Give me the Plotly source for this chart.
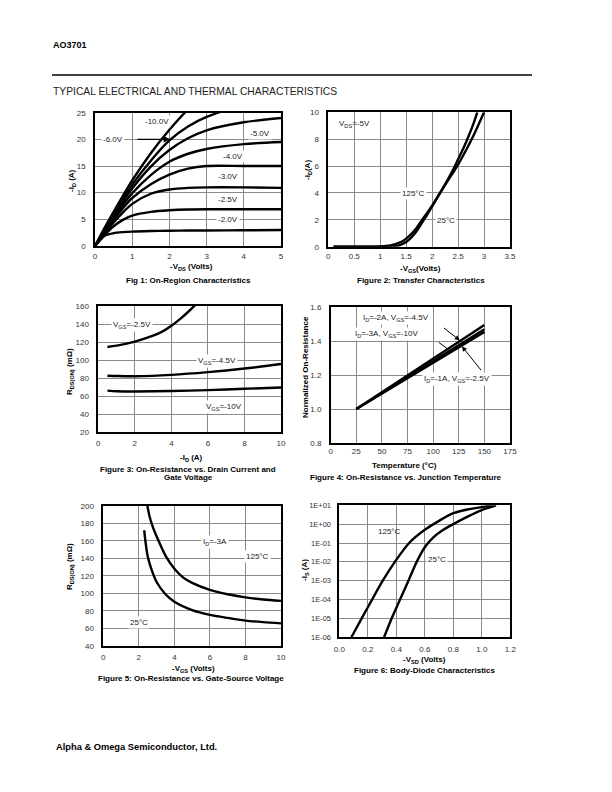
import plotly.graph_objects as go

W, H = 612, 792

# ---------------- Data ----------------
# Fig 1: On-region characteristics  (-VDS in V, -ID in A)
f1_vds = [0, 0.25, 0.5, 0.75, 1.0, 1.5, 2.0, 2.5, 3.0, 4.0, 5.0]
f1_id_vgs2p0 = [0, 1.9, 2.4, 2.6, 2.7, 2.8, 2.85, 2.9, 2.9, 2.95, 3.0]
f1_id_vgs2p5 = [0, 2.0, 3.7, 4.9, 5.7, 6.4, 6.7, 6.85, 6.9, 6.9, 6.9]
f1_id_vgs3p0 = [0, 2.3, 4.4, 6.3, 7.9, 9.8, 10.6, 10.9, 11.0, 11.0, 10.9]
f1_id_vgs3p5 = [0, 2.5, 4.9, 7.1, 9.0, 11.6, 13.4, 14.5, 15.0, 15.0, 15.0]
f1_id_vgs4p0 = [0, 2.6, 5.2, 7.7, 9.9, 13.3, 15.8, 17.3, 18.2, 19.1, 19.5]
f1_id_vgs5p0 = [0, 2.8, 5.6, 8.3, 10.8, 14.9, 18.0, 20.2, 21.7, 23.2, 24.0]
f1_id_vgs6p0 = [0, 3.0, 5.9, 8.8, 11.5, 16.0, 19.8, 22.4, 24.2, 26.5, 28.0]
f1_id_vgs10p0 = [0, 3.3, 6.4, 9.4, 12.3, 17.4, 21.8, 25.6, 28.6, 32.0, 34.0]
f1_labels = ["-10.0V", "-6.0V", "-5.0V", "-4.0V", "-3.0V", "-2.5V", "-2.0V"]
f1_label_x = [1.66, 0.49, 4.44, 3.72, 3.58, 3.58, 3.58]
f1_label_y = [23.3, 19.9, 21.1, 16.75, 13.0, 8.8, 5.06]

# Fig 2: Transfer characteristics (-VGS in V, -ID in A)
f2_vgs_125 = [0.1, 1.0, 1.2, 1.4, 1.5, 1.6, 1.7, 1.8, 1.9, 2.0, 2.2, 2.4, 2.5, 2.6, 2.8, 3.0]
f2_id_125 = [0.0, 0.02, 0.1, 0.35, 0.6, 0.95, 1.4, 1.95, 2.5, 3.05, 4.3, 5.5, 6.1, 6.8, 8.3, 10.0]
f2_vgs_25 = [0.1, 1.2, 1.3, 1.4, 1.5, 1.6, 1.7, 1.8, 1.9, 2.0, 2.2, 2.4, 2.5, 2.6, 2.7, 2.8, 2.87]
f2_id_25 = [0.0, 0.01, 0.05, 0.15, 0.35, 0.7, 1.15, 1.75, 2.35, 3.0, 4.3, 5.7, 6.5, 7.3, 8.2, 9.2, 10.0]

# Fig 3: On-resistance vs drain current (-ID in A, RDS(ON) in mOhm)
f3_id_2p5 = [0.5, 1.0, 2.0, 3.0, 3.5, 4.0, 4.5, 5.0, 5.3]
f3_r_2p5 = [114.5, 116.0, 120.5, 127.0, 131.5, 138.0, 146.0, 155.0, 161.0]
f3_id = [0.5, 1.0, 2.0, 4.0, 6.0, 8.0, 10.0]
f3_r_4p5 = [82.5, 82.2, 82.0, 83.5, 86.5, 90.5, 95.5]
f3_r_10 = [66.0, 65.3, 65.0, 65.5, 66.5, 68.0, 69.5]

# Fig 4: Normalized on-resistance vs temperature
f4_temp = [25, 50, 75, 100, 125, 150]
f4_r_2a = [1.0, 1.099, 1.198, 1.297, 1.396, 1.495]
f4_r_3a = [1.0, 1.094, 1.188, 1.282, 1.376, 1.47]
f4_r_1a = [1.0, 1.091, 1.182, 1.273, 1.364, 1.455]

# Fig 5: On-resistance vs gate-source voltage
f5_vgs_125 = [2.48, 2.6, 2.8, 3.0, 3.5, 4.0, 4.5, 5.0, 6.0, 7.0, 8.0, 9.0, 10.0]
f5_r_125 = [200, 188, 175, 165, 143, 128, 118, 112, 104, 99, 95.5, 93, 91.5]
f5_vgs_25 = [2.3, 2.4, 2.5, 2.75, 3.0, 3.5, 4.0, 5.0, 6.0, 7.0, 8.0, 9.0, 10.0]
f5_r_25 = [172, 155, 142, 125, 113, 99, 90.5, 81, 75.5, 72, 69, 67.2, 65.8]

# Fig 6: Body-diode characteristics
f6_vsd_125 = [0.085, 0.157, 0.23, 0.305, 0.39, 0.49, 0.6, 0.7, 0.8, 0.9, 1.0, 1.07]
f6_is_125 = [1e-6, 1e-5, 1e-4, 1e-3, 1e-2, 1e-1, 0.5, 1.5, 3.8, 6.0, 8.0, 10.0]
f6_vsd_25 = [0.314, 0.367, 0.426, 0.485, 0.543, 0.6, 0.66, 0.73, 0.8, 0.9, 1.0, 1.1]
f6_is_25 = [1e-6, 1e-5, 1e-4, 1e-3, 1e-2, 6e-2, 0.2, 0.5, 1.0, 2.5, 5.6, 10.0]
f6_tickvals = [1e-6, 1e-5, 1e-4, 1e-3, 1e-2, 1e-1, 1e0, 1e1]
f6_ticktext = ["1E-06", "1E-05", "1E-04", "1E-03", "1E-02", "1E-01", "1E+00", "1E+01"]

# ---------------- Layout helpers ----------------
FONT = "Liberation Sans, Arial, sans-serif"


def xd(p0, p1):
    return [p0 / W, p1 / W]


def yd(top, bottom):
    return [1 - bottom / H, 1 - top / H]


def px(x):
    return x / W


def py(y):
    return 1 - y / H


# plot boxes in pixels: left, right, top, bottom
boxes = [
    (95, 281, 112.7, 246),
    (328.3, 510, 112.3, 246.7),
    (98.3, 281, 306, 432),
    (330.7, 510, 307.3, 443),
    (103.3, 281, 505.7, 646),
    (339.3, 510.3, 505.3, 637.3),
]
x_standoff = [2, 1, 3, 0, 3, 3]

fig = go.Figure()
LW = 2.4


def line(x, y, n, spline=True):
    fig.add_trace(go.Scatter(
        x=x, y=y, mode="lines", xaxis="x" if n == 1 else f"x{n}",
        yaxis="y" if n == 1 else f"y{n}",
        line=dict(color="black", width=LW, shape="spline" if spline else "linear", smoothing=0.8),
        showlegend=False, hoverinfo="skip"))


for c in [f1_id_vgs2p0, f1_id_vgs2p5, f1_id_vgs3p0, f1_id_vgs3p5,
          f1_id_vgs4p0, f1_id_vgs5p0, f1_id_vgs6p0, f1_id_vgs10p0]:
    line(f1_vds, c, 1)
line(f2_vgs_125, f2_id_125, 2)
line(f2_vgs_25, f2_id_25, 2)
line(f3_id_2p5, f3_r_2p5, 3)
line(f3_id, f3_r_4p5, 3)
line(f3_id, f3_r_10, 3)
line(f4_temp, f4_r_2a, 4, spline=False)
line(f4_temp, f4_r_3a, 4, spline=False)
line(f4_temp, f4_r_1a, 4, spline=False)
line(f5_vgs_125, f5_r_125, 5)
line(f5_vgs_25, f5_r_25, 5)
line(f6_vsd_125, f6_is_125, 6)
line(f6_vsd_25, f6_is_25, 6)

axis_specs = [
    dict(xr=[0, 5], xd=1, yr=[0, 25], ydt=5, xfmt=None, yfmt=None),
    dict(xr=[0, 3.5], xd=0.5, yr=[0, 10], ydt=2, xfmt=None, yfmt=None),
    dict(xr=[0, 10], xd=2, yr=[20, 160], ydt=20, xfmt=None, yfmt=None),
    dict(xr=[0, 175], xd=25, yr=[0.8, 1.6], ydt=0.2, xfmt=None, yfmt=".1f"),
    dict(xr=[0, 10], xd=2, yr=[40, 200], ydt=20, xfmt=None, yfmt=None),
    dict(xr=[0, 1.2], xd=0.2, yr=None, ydt=None, xfmt=".1f", yfmt=None),
]

layout = dict(
    width=W, height=H, margin=dict(l=0, r=0, t=0, b=0, pad=0, autoexpand=False),
    paper_bgcolor="white", plot_bgcolor="white",
    font=dict(family=FONT, size=8, color="#222"),
    showlegend=False,
)

for i, (b, s) in enumerate(zip(boxes, axis_specs), start=1):
    sfx = "" if i == 1 else str(i)
    common = dict(showline=True, mirror=True, linecolor="black", linewidth=1.5,
                  showgrid=True, gridcolor="#8a8a8a", gridwidth=1, zeroline=False,
                  ticks="", tickfont=dict(family=FONT, size=8, color="#333"),
                  fixedrange=True, automargin=False)
    xa = dict(common, domain=xd(b[0], b[1]), range=s["xr"], dtick=s["xd"], tick0=0,
              anchor="y" + sfx, ticklabelstandoff=x_standoff[i - 1])
    if s["xfmt"]:
        xa["tickformat"] = s["xfmt"]
    if i == 6:
        ya = dict(common, domain=yd(b[2], b[3]), type="log", range=[-6, 1],
                  tickvals=f6_tickvals, ticktext=f6_ticktext, anchor="x" + sfx,
                  ticklabelstandoff=5)
        ya["tickfont"] = dict(family=FONT, size=7.5, color="#333")
    else:
        ya = dict(common, domain=yd(b[2], b[3]), range=s["yr"], dtick=s["ydt"],
                  tick0=s["yr"][0], anchor="x" + sfx, ticklabelstandoff=6)
        if s["yfmt"]:
            ya["tickformat"] = s["yfmt"]
    layout["xaxis" + sfx] = xa
    layout["yaxis" + sfx] = ya

fig.update_layout(**layout)

ann = []


def dlabel(n, x, y, text, bg=True, xanchor="center"):
    sfx = "" if n == 1 else str(n)
    ann.append(dict(x=x, y=y, xref="x" + sfx, yref="y" + sfx, text=text, showarrow=False,
                    font=dict(family=FONT, size=8, color="#222"),
                    bgcolor="white" if bg else None, borderpad=1, xanchor=xanchor))


def plabel(x, y, text, size=8, bold=False, family=FONT, angle=0, xanchor="center", color="black"):
    ann.append(dict(x=px(x), y=py(y), xref="paper", yref="paper",
                    text=f"<b>{text}</b>" if bold else text, showarrow=False,
                    font=dict(family=family, size=size, color=color), textangle=angle,
                    xanchor=xanchor, yanchor="middle", borderpad=0))


# Fig 1 labels
for t, x, y in zip(f1_labels, f1_label_x, f1_label_y):
    dlabel(1, x, y, t)
ann.append(dict(x=2.02, y=20.0, ax=1.1, ay=20.0, xref="x", yref="y", axref="x", ayref="y",
                text="", showarrow=True, arrowhead=2, arrowsize=1, arrowwidth=1.3, arrowcolor="black"))

# Fig 2 labels
dlabel(2, 0.17, 9.1, "V<sub>DS</sub>=-5V", bg=False, xanchor="left")
dlabel(2, 1.65, 3.97, "125°C")
dlabel(2, 2.27, 1.93, "25°C")

# Fig 3 labels
dlabel(3, 1.85, 139, "V<sub>GS</sub>=-2.5V")
dlabel(3, 6.5, 99, "V<sub>GS</sub>=-4.5V")
dlabel(3, 6.9, 48, "V<sub>GS</sub>=-10V")

# Fig 4 labels + arrows
dlabel(4, 64, 1.535, "I<sub>D</sub>=-2A, V<sub>GS</sub>=-4.5V")
dlabel(4, 55, 1.44, "I<sub>D</sub>=-3A, V<sub>GS</sub>=-10V")
dlabel(4, 123, 1.18, "I<sub>D</sub>=-1A, V<sub>GS</sub>=-2.5V")
for (tx, ty, hx, hy, head) in [(109, 1.485, 126, 1.405, 2), (104, 1.40, 114, 1.355, 0),
                               (148, 1.22, 128, 1.37, 2)]:
    ann.append(dict(x=hx, y=hy, ax=tx, ay=ty, xref="x4", yref="y4", axref="x4", ayref="y4",
                    text="", showarrow=True, arrowhead=head, arrowsize=1, arrowwidth=1,
                    arrowcolor="black"))

# Fig 5 labels
dlabel(5, 6.3, 159, "I<sub>D</sub>=-3A")
dlabel(5, 8.7, 142.6, "125°C")
dlabel(5, 2.0, 66.6, "25°C")

# Fig 6 labels (log axis: y given as log10)
dlabel(6, 0.35, -0.4, "125°C", bg=False)
dlabel(6, 0.685, -1.86, "25°C")

# Axis titles (paper positioned)
plabel(72, 181, "-I<sub>D</sub> (A)", bold=True, angle=-90)
plabel(191, 267, "-V<sub>DS</sub> (Volts)", bold=True)
plabel(188, 280, "Fig 1: On-Region Characteristics", bold=True)

plabel(308, 170, "-I<sub>D</sub>(A)", bold=True, angle=-90)
plabel(420, 268.5, "-V<sub>GS</sub>(Volts)", bold=True)
plabel(421, 280, "Figure 2: Transfer Characteristics", bold=True)

plabel(70, 372, "R<sub>DS(ON)</sub> (mΩ)", bold=True, angle=-90)
plabel(191, 458, "-I<sub>D</sub> (A)", bold=True)
plabel(188, 469.5, "Figure 3: On-Resistance vs. Drain Current and", bold=True)
plabel(188, 478, "Gate Voltage", bold=True)

plabel(305, 367, "Normalized On-Resistance", bold=True, angle=-90)
plabel(404, 466, "Temperature (°C)", bold=True)
plabel(406, 478, "Figure 4: On-Resistance vs. Junction Temperature", bold=True)

plabel(70, 567, "R<sub>DS(ON)</sub> (mΩ)", bold=True, angle=-90)
plabel(193, 669, "-V<sub>GS</sub> (Volts)", bold=True)
plabel(191, 678.5, "Figure 5: On-Resistance vs. Gate-Source Voltage", bold=True)

plabel(305, 570, "-I<sub>S</sub> (A)", bold=True, angle=-90)
plabel(424, 660, "-V<sub>SD</sub> (Volts)", bold=True)
plabel(424, 670, "Figure 6: Body-Diode Characteristics", bold=True)

# Page header / footer
plabel(52, 45.5, "AO3701", size=9, bold=True, xanchor="left")
plabel(52, 91, "TYPICAL ELECTRICAL AND THERMAL CHARACTERISTICS", size=10.3,
       xanchor="left", color="#222")
plabel(55, 747, "Alpha &amp; Omega Semiconductor, Ltd.", size=9.3, bold=True, xanchor="left")

fig.update_layout(annotations=ann,
                  shapes=[dict(type="line", xref="paper", yref="paper", x0=px(52), x1=px(532),
                               y0=py(75), y1=py(75), line=dict(color="black", width=1.3))])

fig.write_html("out.html", config={"displayModeBar": False},
               post_script="document.body.style.margin='0px';document.body.style.overflow='hidden';")
